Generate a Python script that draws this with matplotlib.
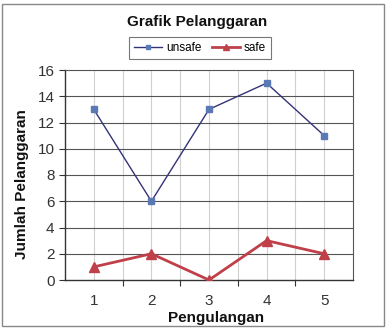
import matplotlib
matplotlib.use("Agg")
import matplotlib.pyplot as plt
from matplotlib.patches import Rectangle

plt.rcParams['font.family'] = ['Liberation Sans', 'DejaVu Sans']

categories = [1, 2, 3, 4, 5]
unsafe = [13, 6, 13, 15, 11]
safe = [1, 2, 0, 3, 2]
yticks = [0, 2, 4, 6, 8, 10, 12, 14, 16]

W, H = 389, 330
fig = plt.figure(figsize=(W/100, H/100), dpi=100)
fig.patch.set_facecolor("white")
fig.add_artist(Rectangle((2/W, 4/H), 382/W, 322/H, transform=fig.transFigure,
                         fill=False, edgecolor="#888888", linewidth=1.0))

ax = fig.add_axes([65/W, 1-280/H, 288/W, 210/H])
ax.set_xlim(0.5, 5.5)
ax.set_ylim(0, 16)

for x in [1, 1.5, 2, 2.5, 3, 3.5, 4, 4.5, 5]:
    ax.axvline(x, color="#d0d0d0", linewidth=0.8, zorder=0)
for y in yticks[1:-1]:
    ax.axhline(y, color="#555555", linewidth=0.8, zorder=0.5)

ax.plot(categories, unsafe, color="#333377", linewidth=1.0, marker="s",
        markersize=4.5, markerfacecolor="#5b79b5", markeredgecolor="#5b79b5",
        label="unsafe", zorder=3)
ax.plot(categories, safe, color="#c0404a", linewidth=2.0, marker="^",
        markersize=7, markerfacecolor="#c0404a", markeredgecolor="#c0404a",
        label="safe", zorder=3)

ax.set_xticks([1.5, 2.5, 3.5, 4.5], minor=False)
ax.set_xticks(categories, minor=True)
ax.set_xticklabels([], minor=False)
ax.set_xticklabels([str(c) for c in categories], minor=True)
ax.tick_params(axis="x", which="major", length=4, direction="out", color="#333333")
ax.tick_params(axis="x", which="minor", length=0, pad=10, labelsize=11, labelcolor="#333333")
ax.set_yticks(yticks)
ax.set_yticklabels([str(v) for v in yticks])
ax.tick_params(axis="y", length=4, direction="out", labelsize=11, labelcolor="#333333", color="#333333")

for s in ["top", "right"]:
    ax.spines[s].set_color("#555555")
    ax.spines[s].set_linewidth(0.8)
for s in ["left", "bottom"]:
    ax.spines[s].set_color("#333333")
    ax.spines[s].set_linewidth(1.0)

fig.text(197/W, 1-22/H, "Grafik Pelanggaran", ha="center", va="center",
         fontsize=11, fontweight="bold", color="#111111")
fig.text(216/W, 1-318/H, "Pengulangan", ha="center", va="center",
         fontsize=11, fontweight="bold", color="#111111")
fig.text(22/W, 1-184/H, "Jumlah Pelanggaran", ha="center", va="center",
         rotation=90, fontsize=11, fontweight="bold", color="#111111")

leg = fig.legend(loc="center", bbox_to_anchor=(200/W, 1-48/H), ncol=2,
                 fontsize=8.5, frameon=True, fancybox=False, handlelength=2.4,
                 handletextpad=0.3, columnspacing=0.9, borderpad=0.4,
                 markerscale=0.7)
leg.get_frame().set_edgecolor("#555555")
leg.get_frame().set_linewidth(0.8)

fig.savefig("out.png", dpi=100)
